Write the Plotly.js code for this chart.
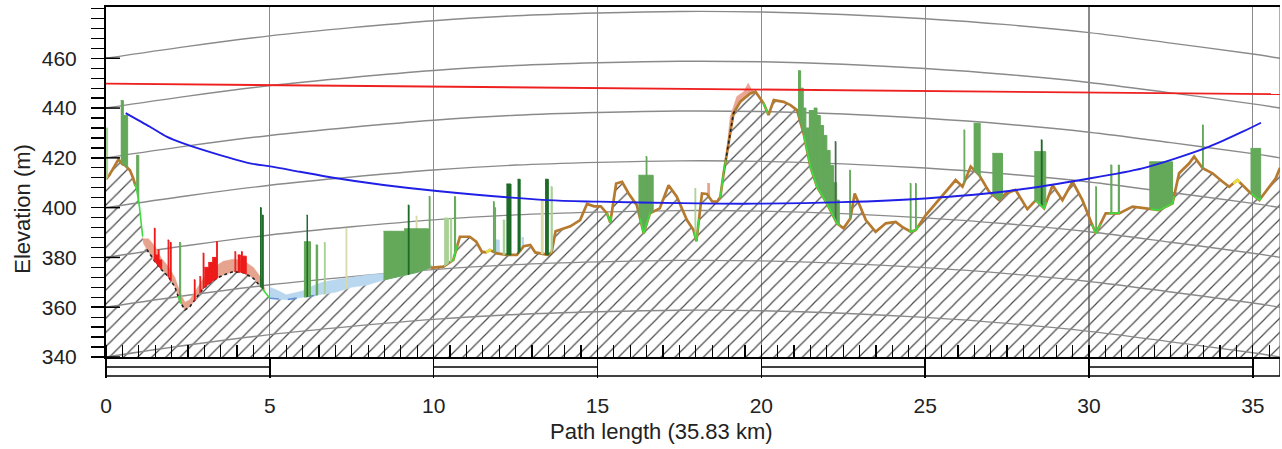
<!DOCTYPE html>
<html>
<head>
<meta charset="utf-8">
<script src="https://cdn.plot.ly/plotly-3.0.1.min.js"></script>
<style>html,body{margin:0;padding:0;background:#fff;}#chart{width:1282px;height:449px;}</style>
</head>
<body>
<div id="chart"></div>
<script>
// ---------------- DATA ----------------
const pathLengthKm = 35.83;

// terrain profile [km, elevation m]
const terrain = [
 [0,411.5],[0.1,413],[0.22,415.8],[0.38,419.4],[0.5,417.5],[0.58,417],[0.73,415],[0.83,411.8],[0.94,407],[1.02,400.4],
 [1.09,392.4],[1.14,385.7],[1.29,382.3],[1.5,378.3],[1.7,375],[1.9,372.3],[2.1,368.2],[2.26,362.2],[2.41,358.9],[2.56,360.2],
 [2.77,364.2],[2.97,367.6],[3.28,370.9],[3.58,372.9],[3.89,374.3],[4.19,373.9],[4.5,371.6],[4.8,366.9],[5.0,363.6],[5.5,363],
 [6.0,364],[6.5,365],[7.0,366],[7.5,368],[8.0,369],[8.5,371],[9.0,372.5],[9.5,374],[9.9,375.8],[10.3,376.3],
 [10.6,379],[10.7,384],[10.8,388.3],[11.1,388.3],[11.3,386.3],[11.47,382.3],[11.6,382],[11.72,383],[11.93,381.6],[12.24,381],[12.54,381],
 [12.75,384.5],[12.95,385],[13.1,382],[13.5,381],[13.6,382],[13.72,390.5],[14.17,392.5],[14.47,395],[14.68,401.5],[14.9,400.5],[15.1,400.5],
 [15.29,397.7],[15.39,394],[15.57,409.7],[15.75,410.4],[15.95,405.7],[16.2,401],[16.41,389.7],[16.6,397.7],[16.9,399.7],[17.17,409],[17.42,404.4],
 [17.73,395],[17.93,391],[18.02,386.5],[18.19,405.7],[18.34,405.5],[18.5,402.5],[18.65,402.4],[18.75,404.4],[18.85,413.8],[18.95,421.8],
 [19.05,429.8],[19.15,437.9],[19.36,442.6],[19.66,445.9],[19.82,446.6],[20.07,441.9],[20.22,437.2],[20.38,443.2],[20.68,442.5],[20.89,441.2],
 [21.09,439.2],[21.29,429.8],[21.5,416.4],[21.7,408.4],[22.0,401.7],[22.31,393.7],[22.51,391.7],[22.72,395.7],[22.85,405.7],[22.93,403],
 [23.19,395],[23.49,390.3],[23.8,393.7],[24.1,394.3],[24.3,392.3],[24.56,390.3],[24.71,391],[25.02,397],[25.32,401.7],[25.63,406.4],
 [25.93,411.1],[26.14,408.4],[26.39,416.5],[26.65,413.1],[26.95,406.4],[27.26,403],[27.46,405.7],[27.76,407.1],[28.12,399.4],[28.38,403],
 [28.63,399.7],[28.89,409],[29.19,403],[29.5,410.4],[29.8,403],[30.06,394.3],[30.21,389.7],[30.51,397.7],[30.92,397.7],[31.33,400.4],
 [31.73,399.7],[32.14,399],[32.55,401.7],[32.75,413.8],[33.06,417.8],[33.21,420.5],[33.47,415.8],[33.77,413.8],[34.08,410.4],[34.28,408.4],
 [34.53,411.1],[34.89,406.4],[35.2,403],[35.5,408.4],[35.7,411.8],[35.83,416]
];

// line of sight (red)
const losKm = [0, 35.83];
const losM  = [449.8, 445.6];

// Fresnel clearance curve (blue)
const fresnelKm = [0.6, 1.34, 1.85, 2.36, 3.38, 4.4, 5.06, 5.92, 6.94, 8.47, 10.1, 13.46, 15.02, 17.5, 19.77, 22.47, 25, 27.56, 30.05, 31.63, 32.65, 33.67, 34.69, 35.25];
const fresnelM  = [438, 432.5, 428.5, 425.8, 421.5, 417.8, 416.5, 414.4, 412, 409.1, 406.7, 403, 402.4, 401.8, 401.6, 402.2, 403.7, 406.7, 411.8, 415.8, 419.8, 424.5, 430.5, 434.1];

// earth-curvature reference lines: base levels and bulge read along the path
const curveLevels = [340, 360, 380, 400, 420, 440, 460];
const bulgeKm = [0, 2.5, 5, 7.5, 10, 12.5, 15, 17.5, 20, 22.5, 25, 27.5, 30, 32.5, 35, 35.83];
const bulgeM  = [0, 4.8, 9, 12.3, 15.1, 17.1, 18.2, 18.8, 18.6, 17.6, 15.9, 13.5, 10.3, 6.1, 1.7, 0];

// vegetation / clutter blocks [from km, to km, top elevation m]
const greenVeg = [
 [0.45,0.53,443],[0.53,0.66,437],[0.92,1.0,421],[2.23,2.28,386],
 [6.04,6.24,386.3],[6.40,6.46,385],[8.47,9.1,390.5],[9.1,9.84,391.5],[9.85,9.89,404.5],[10.62,10.67,404.4],[11.81,11.85,402.4],[11.86,11.89,400],
 [16.25,16.7,413],[16.47,16.51,420.5],
 [21.12,21.2,455],[21.2,21.28,448],[21.28,21.36,440],[21.36,21.45,432],[21.45,21.6,439],[21.6,21.7,440],[21.7,21.8,437],[21.8,21.9,433],
 [21.9,22.0,429],[22.0,22.1,423],[22.1,22.2,417],[22.2,22.3,410],[22.3,22.38,403],
 [22.68,22.72,415],[24.53,24.57,409.7],[24.69,24.73,409.7],
 [26.17,26.21,431.2],[26.48,26.68,433.9],[27.05,27.36,421.8],[28.33,28.68,422.5],[30.19,30.23,408.4],[30.65,30.7,417.1],[30.88,30.93,417.1],
 [31.84,32.55,418.4],[33.45,33.49,433.2],[34.93,35.24,423.8]
];
const darkVeg = [[4.70,4.74,400],[4.76,4.80,397],[6.12,6.15,397],[9.21,9.25,401],[12.22,12.36,409.5],[12.56,12.64,411.4],[13.40,13.50,411.4],[28.53,28.57,427.2]];
const lightVeg = [[0.0,0.05,432],[6.65,6.69,386],[10.32,10.45,395.8],[10.5,10.55,395.8],[12.11,12.17,395],[13.57,13.62,408.4],[17.96,18.0,407.7]];
const tanVeg = [[7.31,7.35,391.7],[9.45,9.49,396.6],[13.27,13.34,403]];
const grayVeg = [[22.24,22.28,426.5]];
const redClutter = [
 [1.46,1.5,391.7],[1.5,1.58,381],[1.58,1.62,383],[1.62,1.7,379],[1.88,1.92,387],[1.95,1.99,386],[2.68,2.72,371],[2.85,2.89,372.3],
 [2.95,2.99,381.7],[3.0,3.12,376],[3.12,3.24,378],[3.24,3.36,380],[3.36,3.4,386.3],[3.92,3.96,382.3],[4.02,4.10,381],[4.12,4.16,382.3],[4.16,4.28,380.5]
];
const lightBlueBits = [[11.87,12.0,387],[12.68,12.74,388]];
const salmonBits = [[18.35,18.42,409.7]];

// clutter bands following the ground [km, top m]
const salmonBandA = [[1.12,387.5],[1.3,387.5],[1.5,384.3],[1.7,379.5],[1.9,376.5],[2.1,372],[2.26,366],[2.41,362],[2.56,363],[2.77,367.5],[2.97,371.5],[3.28,376],[3.58,378.5],[3.89,379.3],[4.19,378.8],[4.5,376],[4.75,371.5],[4.85,367]];
const salmonBandB = [[18.92,420],[19.05,436.5],[19.25,444.6],[19.46,446.6],[19.6,450],[19.7,447.5],[19.8,446.6]];
const waterBand = [[5.0,368],[5.2,367],[5.5,365],[6.0,366.5],[6.3,368.5],[6.6,370],[7.0,371],[7.5,372],[8.0,373],[8.47,373.5],[9.84,377],[9.95,377]];

// ground-line colouring ranges [from km, to km]
const brownRanges = [[0,0.9],[9.9,35.83]];
const greenEdge = [[0.88,1.12],[2.2,2.3],[4.78,5.0],[10.55,10.72],[15.28,15.42],[16.3,16.62],[17.95,18.1],[18.72,18.92],[20.05,20.2],[21.3,22.4],[24.5,24.8],[28.4,28.7],[30.1,30.35],[30.6,30.95],[31.9,32.6],[34.95,35.25]];
const blackDots = [[1.25,4.7],[18.85,19.2]];
const yellowEdge = [[11.6,11.76],[34.4,34.6]];
const blueEdge = [[5.0,6.4]];

// axis ticks
const xTickVals = [0, 5, 10, 15, 20, 25, 30, 35];
const yTickVals = [340, 360, 380, 400, 420, 440, 460];
const scaleFilled = [[0,5],[10,15],[20,25],[30,35]];

// ---------------- helpers ----------------
const tKm = terrain.map(p => p[0]);
const tM  = terrain.map(p => p[1]);
function ground(x) {
  if (x <= tKm[0]) return tM[0];
  for (let i = 0; i < tKm.length - 1; i++) {
    if (x >= tKm[i] && x <= tKm[i+1]) {
      const f = (x - tKm[i]) / (tKm[i+1] - tKm[i]);
      return tM[i] + f * (tM[i+1] - tM[i]);
    }
  }
  return tM[tM.length - 1];
}
function seg(a, b) {
  const xs = [a], ys = [ground(a)];
  for (let i = 0; i < tKm.length; i++) if (tKm[i] > a && tKm[i] < b) { xs.push(tKm[i]); ys.push(tM[i]); }
  xs.push(b); ys.push(ground(b));
  return {x: xs, y: ys};
}
function blocks(list, color) {
  const X = [], Y = [];
  list.forEach(([a, b, top]) => {
    const s = seg(a, b);
    X.push(...s.x, b, a, null);
    Y.push(...s.y, top, top, null);
  });
  return {x: X, y: Y, mode: 'lines', fill: 'toself', fillcolor: color,
          line: {width: 1, color: color}, hoverinfo: 'skip', showlegend: false};
}
function band(pts, color) {
  const a = pts[0][0], b = pts[pts.length - 1][0];
  const s = seg(a, b);
  const X = pts.map(p => p[0]).concat(s.x.slice().reverse());
  const Y = pts.map(p => p[1]).concat(s.y.slice().reverse());
  return {x: X, y: Y, mode: 'lines', fill: 'toself', fillcolor: color,
          line: {width: 0.5, color: color}, hoverinfo: 'skip', showlegend: false};
}
function edge(ranges, color, width, dash) {
  const X = [], Y = [];
  ranges.forEach(([a, b]) => { const s = seg(a, b); X.push(...s.x, null); Y.push(...s.y, null); });
  return {x: X, y: Y, mode: 'lines', line: {color: color, width: width, dash: dash || 'solid'},
          hoverinfo: 'skip', showlegend: false, connectgaps: false};
}

// ---------------- traces ----------------
const traces = [];
// hatched ground
traces.push({x: tKm, y: tM, mode: 'lines', fill: 'tozeroy', line: {width: 0, color: 'rgba(0,0,0,0)'},
  fillcolor: 'rgba(0,0,0,0)', fillpattern: {shape: '/', fgcolor: '#4a4a4a', size: 10, solidity: 0.12},
  hoverinfo: 'skip', showlegend: false});
// curvature lines
curveLevels.forEach(lv => {
  traces.push({x: bulgeKm, y: bulgeM.map(b => lv + b), mode: 'lines',
    line: {color: '#8a8a8a', width: 1.4, shape: 'spline', smoothing: 1}, hoverinfo: 'skip', showlegend: false});
});
// clutter bands
traces.push(band(waterBand, '#b9d7ee'));
traces.push(band(salmonBandA, '#e6a38e'));
traces.push(band(salmonBandB, '#eba595'));
traces.push(blocks(salmonBits, '#e6a38e'));
traces.push(blocks(lightBlueBits, '#b9d7ee'));
// ground line
traces.push(edge(brownRanges, '#b67a2f', 2.7));
traces.push(edge(blueEdge, '#5d8fd8', 1.6, 'dash'));
traces.push(edge(blackDots, '#222222', 1.6, 'dot'));
traces.push(edge(yellowEdge, '#e8e040', 2.6));
// vegetation
traces.push(blocks(redClutter, '#ee1b1b'));
traces.push(blocks(lightVeg, '#a9d196'));
traces.push(blocks(tanVeg, '#d9d9a6'));
traces.push(blocks(greenVeg, '#64a85a'));
traces.push(blocks(darkVeg, '#1e6b28'));
traces.push(blocks(grayVeg, '#4f6b52'));
traces.push(edge(greenEdge, '#3fdc3f', 1.6));
// LOS and Fresnel
traces.push({x: losKm, y: losM, mode: 'lines', line: {color: '#ee2020', width: 1.8}, hoverinfo: 'skip', showlegend: false});
traces.push({x: fresnelKm, y: fresnelM, mode: 'lines', line: {color: '#1f1fe6', width: 1.9, shape: 'spline', smoothing: 0.8}, hoverinfo: 'skip', showlegend: false});

// ---------------- layout ----------------
const PW = 1282 - 106 - 2, PH = 449 - 7 - 92;
const shapes = [];
// scale bar below the axis
shapes.push({type: 'line', xref: 'x', yref: 'paper', x0: 0, x1: pathLengthKm, y0: -19/PH, y1: -19/PH, line: {color: '#000', width: 1.6}});
scaleFilled.forEach(([a, b]) => shapes.push({type: 'line', xref: 'x', yref: 'paper', x0: a, x1: b, y0: -10/PH, y1: -10/PH, line: {color: '#000', width: 1.4}}));
shapes.push({type: 'line', xref: 'x', yref: 'paper', x0: pathLengthKm, x1: pathLengthKm, y0: -19/PH, y1: 0, line: {color: '#000', width: 1.4}});
// right border
shapes.push({type: 'line', xref: 'x', yref: 'paper', x0: pathLengthKm, x1: pathLengthKm, y0: 0, y1: 1, line: {color: '#7a7a7a', width: 1.2}});
// inner part of major y ticks
yTickVals.forEach(v => shapes.push({type: 'line', xref: 'paper', yref: 'y', x0: 0, x1: 14/PW, y0: v, y1: v, line: {color: '#000', width: 1.5}}));

const font = {family: 'Liberation Sans, Arial, sans-serif', size: 21, color: '#222'};
const layout = {
  width: 1282, height: 449,
  margin: {l: 106, r: 2, t: 7, b: 92},
  paper_bgcolor: '#fff', plot_bgcolor: '#fff',
  font: font,
  showlegend: false,
  hovermode: false,
  xaxis: {
    range: [0, pathLengthKm], tickmode: 'array', tickvals: xTickVals, ticktext: xTickVals.map(String),
    ticks: 'outside', ticklen: 19, tickwidth: 1.4, tickcolor: '#000',
    showline: true, linecolor: '#000', linewidth: 2, mirror: true,
    showgrid: true, gridcolor: '#8a8a8a', gridwidth: 1.3, zeroline: false,
    ticklabelstandoff: 10,
    minor: {tick0: 0, dtick: 0.5, ticks: 'inside', ticklen: 12, tickwidth: 1.2, tickcolor: '#000', showgrid: false},
    tickfont: font
  },
  yaxis: {
    range: [340, 480.6], tickmode: 'array', tickvals: yTickVals, ticktext: yTickVals.map(String),
    ticks: 'outside', ticklen: 13, tickwidth: 1.5, tickcolor: '#000',
    showline: true, linecolor: '#000', linewidth: 2, mirror: false,
    showgrid: false, zeroline: false, ticklabelstandoff: 10,
    minor: {tick0: 340, dtick: 4, ticks: 'outside', ticklen: 13, tickwidth: 1.3, tickcolor: '#000', showgrid: false},
    tickfont: font
  },
  shapes: shapes,
  annotations: [
    {text: 'Elevation (m)', xref: 'paper', yref: 'paper', x: (21.7 - 106)/PW, y: (357 - 209)/PH,
     xanchor: 'center', yanchor: 'middle', textangle: -90, showarrow: false, font: {family: font.family, size: 22, color: '#222'}},
    {text: 'Path length (35.83 km)', xref: 'paper', yref: 'paper', x: (661 - 106)/PW, y: (357 - 432)/PH,
     xanchor: 'center', yanchor: 'middle', showarrow: false, font: {family: font.family, size: 22, color: '#222'}}
  ]
};
Plotly.newPlot('chart', traces, layout, {staticPlot: true, displayModeBar: false});
</script>
</body>
</html>
